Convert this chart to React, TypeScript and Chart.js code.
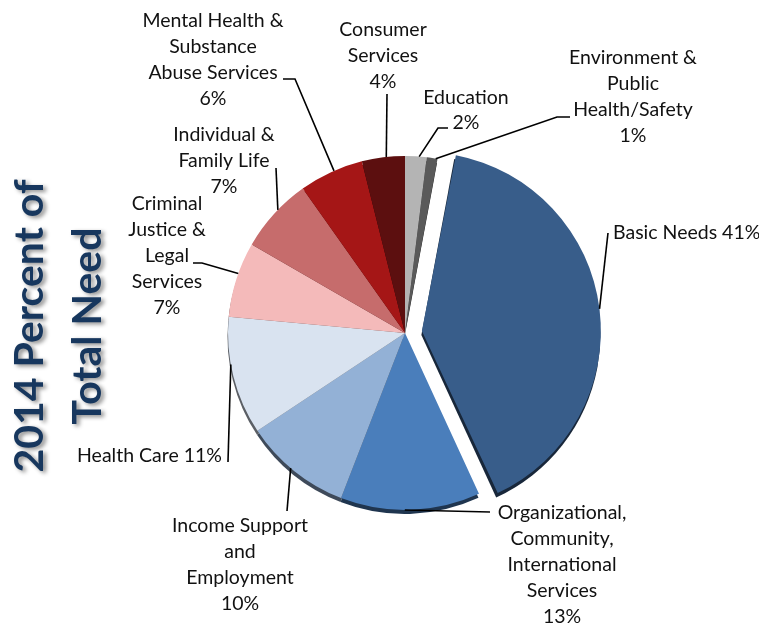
import React, { useEffect, useRef } from 'react';
import { Chart, registerables } from 'chart.js';

Chart.register(...registerables);

// ---- data (clockwise from 12 o'clock) ----
const categories = [
  'Education',
  'Environment & Public Health/Safety',
  'Basic Needs',
  'Organizational, Community, International Services',
  'Income Support and Employment',
  'Health Care',
  'Criminal Justice & Legal Services',
  'Individual & Family Life',
  'Mental Health & Substance Abuse Services',
  'Consumer Services',
];
const percents = [2, 1, 41, 13, 10, 11, 7, 7, 6, 4];
const labelLines = [
  ['Education'],
  ['Environment &', 'Public', 'Health/Safety'],
  ['Basic Needs'],
  ['Organizational,', 'Community,', 'International', 'Services'],
  ['Income Support', 'and', 'Employment'],
  ['Health Care'],
  ['Criminal', 'Justice &', 'Legal', 'Services'],
  ['Individual &', 'Family Life'],
  ['Mental Health &', 'Substance', 'Abuse Services'],
  ['Consumer', 'Services'],
];
const titleLines = ['2014 Percent of', 'Total Need'];

// ---- styles ----
const sliceColors = [
  '#B4B4B4', '#5A5A5A', '#385D8A', '#4A7EBB', '#93B1D6',
  '#D9E3F0', '#F4BABA', '#C66C6C', '#A51616', '#5C0F0F',
];
const explode = [0, 0, 68, 0, 0, 0, 0, 0, 0, 0];

// label layout relative to the pie centre
type LabelLayout = {
  x: number; y: number; align: CanvasTextAlign; inline?: boolean;
  at: number; path: number[][]; step?: number;
};
const labelLayout: LabelLayout[] = [
  { x: 61, y: -235, align: 'center', at: 0.65, path: [[33, -205], [43, -205]], step: 25 },
  { x: 228, y: -275, align: 'center', at: 0.83, path: [[152, -216], [165, -216]] },
  { x: 208, y: -100, align: 'left', inline: true, at: 0.5, path: [[203, -100]] },
  { x: 157, y: 180, align: 'center', at: 0.54, path: [[85, 179]] },
  { x: -165, y: 193, align: 'center', at: 0.54, path: [[-118, 178]] },
  { x: -183, y: 123, align: 'right', inline: true, at: 0.6, path: [[-177, 129]] },
  { x: -238, y: -129, align: 'center', at: 0.58, path: [[-203, -70], [-212, -70]] },
  { x: -181, y: -198, align: 'center', at: 0.57, path: [[-129, -165]] },
  { x: -192, y: -312, align: 'center', at: 0.55, path: [[-110, -254], [-122, -254]] },
  { x: -22, y: -303, align: 'center', at: 0.57, path: [[-18, -239]] },
];

function darken(hex: string, f: number) {
  const n = parseInt(hex.slice(1), 16);
  const r = Math.round(((n >> 16) & 255) * f);
  const g = Math.round(((n >> 8) & 255) * f);
  const b = Math.round((n & 255) * f);
  return `rgb(${r},${g},${b})`;
}

const rimPlugin = {
  id: 'rim',
  afterDatasetsUpdate(chart: any) {
    const meta = chart.getDatasetMeta(0);
    meta.data.forEach((arc: any, i: number) => {
      const off = (explode[i] || 0) / 4;
      if (!off) return;
      const circ = arc.endAngle - arc.startAngle;
      const fix = 1 - Math.sin(Math.min(Math.PI, circ));
      arc.outerRadius = arc.outerRadius - off * fix + 2;
    });
  },
  beforeDatasetsDraw(chart: any) {
    const ctx = chart.ctx;
    const meta = chart.getDatasetMeta(0);
    ctx.save();
    meta.data.forEach((arc: any, i: number) => {
      const off = (explode[i] || 0) / 4;
      const half = (arc.startAngle + arc.endAngle) / 2;
      const circ = arc.endAngle - arc.startAngle;
      const fix = 1 - Math.sin(Math.min(Math.PI, circ));
      const r = arc.outerRadius + off * fix;
      const cx = arc.x + Math.cos(half) * off - 0.5;
      const cy = arc.y + Math.sin(half) * off + 4;
      ctx.beginPath();
      ctx.moveTo(cx, cy);
      ctx.arc(cx, cy, r, arc.startAngle, arc.endAngle);
      ctx.closePath();
      ctx.fillStyle = darken(sliceColors[i], 0.42);
      ctx.fill();
    });
    ctx.restore();
  },
};

const labelPlugin = {
  id: 'labels',
  afterDraw(chart: any) {
    const ctx = chart.ctx;
    const meta = chart.getDatasetMeta(0);
    const cx0 = meta.data[0].x;
    const cy0 = meta.data[0].y;
    ctx.save();
    // leader lines
    ctx.strokeStyle = '#000';
    ctx.lineWidth = 1.6;
    meta.data.forEach((arc: any, i: number) => {
      const L = labelLayout[i];
      const off = (explode[i] || 0) / 4;
      const half = (arc.startAngle + arc.endAngle) / 2;
      const circ = arc.endAngle - arc.startAngle;
      const fix = 1 - Math.sin(Math.min(Math.PI, circ));
      const r = arc.outerRadius + off * fix;
      const a = arc.startAngle + circ * L.at;
      const sx = arc.x + Math.cos(half) * off + Math.cos(a) * r;
      const sy = arc.y + Math.sin(half) * off + Math.sin(a) * r;
      ctx.beginPath();
      ctx.moveTo(sx, sy);
      L.path.forEach((p) => ctx.lineTo(cx0 + p[0], cy0 + p[1]));
      ctx.stroke();
    });
    // texts
    ctx.fillStyle = '#111';
    ctx.font = '19.5px Lato, "Open Sans", sans-serif';
    ctx.textBaseline = 'middle';
    meta.data.forEach((arc: any, i: number) => {
      const L = labelLayout[i];
      const pct = `${percents[i]}%`;
      const lines = L.inline
        ? [...labelLines[i].slice(0, -1), `${labelLines[i][labelLines[i].length - 1]} ${pct}`]
        : [...labelLines[i], pct];
      const step = L.step || 26;
      ctx.textAlign = L.align;
      lines.forEach((t, k) => ctx.fillText(t, cx0 + L.x, cy0 + L.y + k * step));
    });
    ctx.restore();

    // title
    ctx.save();
    ctx.font = 'bold 41px Lato, "Open Sans", sans-serif';
    ctx.fillStyle = '#17375E';
    ctx.textAlign = 'center';
    ctx.textBaseline = 'middle';
    ctx.shadowColor = 'rgba(0,0,0,0.45)';
    ctx.shadowBlur = 4;
    ctx.shadowOffsetX = 3;
    ctx.shadowOffsetY = 2;
    const tx = [30, 88];
    titleLines.forEach((t, k) => {
      ctx.save();
      ctx.translate(tx[k], 326);
      ctx.rotate(-Math.PI / 2);
      ctx.fillText(t, 0, 0);
      ctx.restore();
    });
    ctx.restore();
  },
};

export default function App() {
  const ref = useRef<HTMLCanvasElement>(null);
  useEffect(() => {
    if (!ref.current) return;
    const chart = new Chart(ref.current, {
      type: 'pie',
      data: {
        labels: categories,
        datasets: [
          {
            data: percents,
            backgroundColor: sliceColors,
            borderWidth: 0,
            offset: explode,
          },
        ],
      },
      options: {
        animation: false,
        responsive: false,
        devicePixelRatio: 1,
        radius: 177,
        layout: { padding: { left: 51, right: 0, top: 43, bottom: 0 } },
        plugins: {
          legend: { display: false },
          tooltip: { enabled: false },
          title: { display: false },
        },
      },
      plugins: [rimPlugin, labelPlugin],
    });
    return () => chart.destroy();
  }, []);
  return (
    <div style={{ position: 'absolute', left: 0, top: 0, width: 759, height: 623, background: '#fff' }}>
      <canvas ref={ref} width={759} height={623} style={{ display: 'block' }} />
    </div>
  );
}
